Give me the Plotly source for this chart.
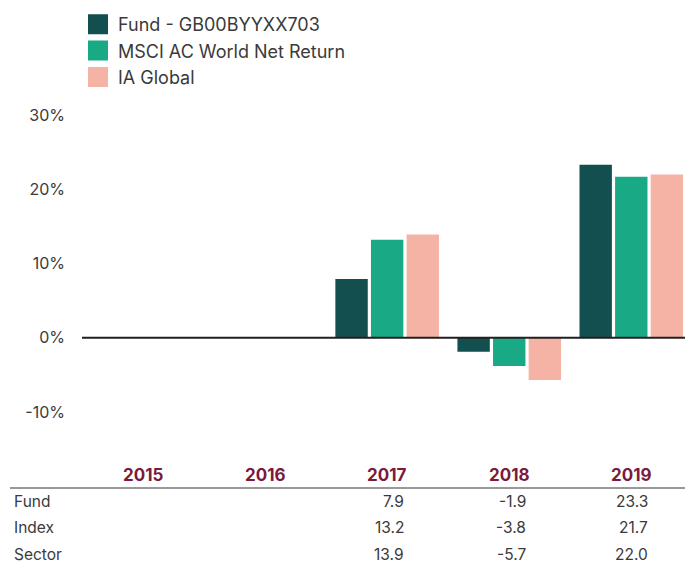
import plotly.graph_objects as go

years = ["2015", "2016", "2017", "2018", "2019"]
fund = [None, None, 7.9, -1.9, 23.3]
index_ret = [None, None, 13.2, -3.8, 21.7]
sector = [None, None, 13.9, -5.7, 22.0]
series_names = ["Fund - GB00BYYXX703", "MSCI AC World Net Return", "IA Global"]
row_labels = ["Fund", "Index", "Sector"]
y_ticks = [-10, 0, 10, 20, 30]
y_tick_text = ["-10%", "0%", "10%", "20%", "30%"]

colors = ["#124F4E", "#19AA85", "#F5B3A6"]
FONT = "Inter, Lato, sans-serif"
TEXT = "#3a3a3a"

W, H = 685, 563
ML, MR, MT, MB = 82, 0, 115, 99
plot_h = H - MT - MB
plot_w = W - ML - MR

def py_to_paper(py):
    return (H - MB - py) / plot_h

def px_to_paper(px):
    return (px - ML) / plot_w

fig = go.Figure()
xs = list(range(len(years)))
all_series = [fund, index_ret, sector]
for name, vals, c in zip(series_names, all_series, colors):
    fig.add_trace(go.Bar(x=xs, y=vals, name=name, marker=dict(color=c, line=dict(width=0)),
                         showlegend=False, hoverinfo="y"))
for i, (name, c) in enumerate(zip(series_names, colors)):
    fig.add_trace(go.Scatter(x=[None], y=[None], mode="markers", name=name,
                             marker=dict(symbol="square", size=16, color=c,
                                         line=dict(color=c, width=4))))

# table values
for r, (lab, vals) in enumerate(zip(row_labels, all_series)):
    ypaper = py_to_paper(501.5 + r * 26.3)
    fig.add_annotation(x=px_to_paper(12), y=ypaper, xref="paper", yref="paper",
                       text=lab, showarrow=False, xanchor="left", yanchor="middle",
                       font=dict(family=FONT, size=15.5, color=TEXT))
    for i, v in enumerate(vals):
        if v is None:
            continue
        fig.add_annotation(x=xs[i], y=ypaper, xref="x", yref="paper",
                           text=f"{v:.1f}", showarrow=False, xanchor="right", yanchor="middle",
                           xshift=19, font=dict(family=FONT, size=15.5, color=TEXT))

# year labels
for i, yr in enumerate(years):
    fig.add_annotation(x=xs[i], y=py_to_paper(475), xref="x", yref="paper",
                       text=f"<b>{yr}</b>", showarrow=False, xanchor="center", yanchor="middle",
                       font=dict(family=FONT, size=17, color="#7B1A3D"))

# separator line under year labels
fig.add_shape(type="line", xref="paper", yref="paper",
              x0=px_to_paper(10), x1=1, y0=py_to_paper(488), y1=py_to_paper(488),
              line=dict(color="#333333", width=1))
# zero line
fig.add_shape(type="line", xref="paper", yref="y", x0=0, x1=1, y0=0, y1=0,
              line=dict(color="#231F20", width=2), layer="above")

fig.update_layout(
    width=W, height=H,
    margin=dict(l=ML, r=MR, t=MT, b=MB, pad=0),
    paper_bgcolor="white", plot_bgcolor="white",
    barmode="group", bargap=0.125, bargroupgap=0.09,
    font=dict(family=FONT, size=16, color=TEXT),
    xaxis=dict(range=[-0.5, 4.44], showticklabels=False, showgrid=False, zeroline=False,
               showline=False, ticks="", fixedrange=True),
    yaxis=dict(range=[-17, 30], tickvals=y_ticks, ticktext=y_tick_text, showgrid=False,
               zeroline=False, showline=False, ticks="", ticklabelstandoff=16,
               tickfont=dict(family=FONT, size=16, color=TEXT)),
    legend=dict(x=px_to_paper(78), y=py_to_paper(6), xanchor="left", yanchor="top",
                xref="paper", yref="paper", orientation="v",
                font=dict(family=FONT, size=18, color=TEXT),
                bgcolor="rgba(0,0,0,0)"),
    showlegend=True,
)

fig.write_html("out.html", config={"displayModeBar": False},
               post_script="document.body.style.margin='0';")
